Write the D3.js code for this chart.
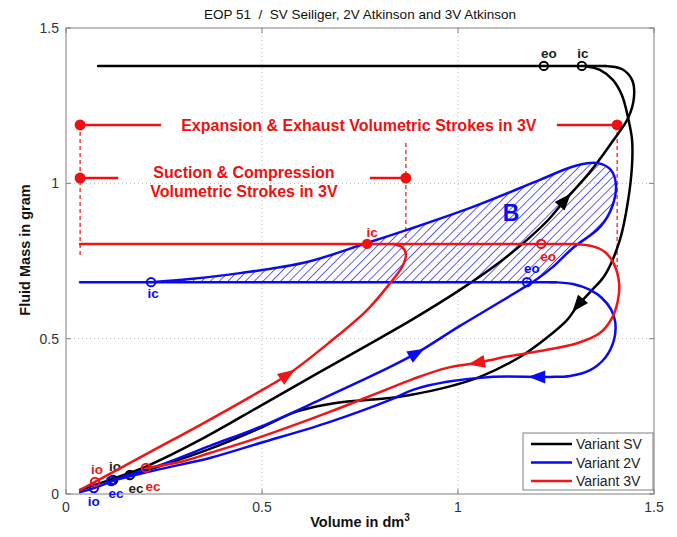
<!DOCTYPE html>
<html>
<head>
<meta charset="utf-8">
<title>EOP 51</title>
<script src="https://cdn.jsdelivr.net/npm/d3@7"></script>
<style>
  html, body { margin: 0; padding: 0; background: #fff; }
  svg { display: block; font-family: "Liberation Sans", Arial, Helvetica, sans-serif; }
  .pre { white-space: pre; }
</style>
</head>
<body>
<svg id="chart" width="677" height="537"></svg>
<script>
// ---------- Data: cylinder volume (dm³) vs fluid mass (g) ----------
const volumeTicks = [0, 0.5, 1, 1.5];
const massTicks = [0, 0.5, 1, 1.5];
const volumeTickLabels = ["0", "0.5", "1", "1.5"];
const massTickLabels = ["0", "0.5", "1", "1.5"];
const variantNames = ["Variant SV", "Variant 2V", "Variant 3V"];

// SV Seiliger: intake branch, closed-valve plateau, exhaust branch
const svIntake = [[0.036,0.013],[0.117,0.048],[0.207,0.090],[0.342,0.174],[0.495,0.283],[0.648,0.393],[0.801,0.502],[0.885,0.563],[1.000,0.653],[1.107,0.747],[1.176,0.818],[1.230,0.882],[1.273,0.946],[1.337,1.037],[1.393,1.133],[1.434,1.210],[1.449,1.278],[1.444,1.333],[1.418,1.368],[1.375,1.378]];
const svPlateau = [[0.082,1.378],[1.375,1.378]];
const svExhaust = [[1.324,1.378],[1.362,1.365],[1.395,1.333],[1.418,1.284],[1.434,1.210],[1.444,1.140],[1.444,1.059],[1.434,0.946],[1.413,0.818],[1.375,0.705],[1.337,0.650],[1.306,0.608],[1.278,0.560],[1.209,0.486],[1.158,0.441],[1.056,0.377],[0.972,0.344],[0.878,0.319],[0.827,0.309],[0.707,0.296],[0.622,0.277],[0.579,0.261],[0.495,0.212],[0.367,0.145],[0.240,0.090],[0.163,0.061]];
const svMarkers = [["eo",1.219,1.378],["ic",1.316,1.378],["io",0.120,0.045],["ec",0.163,0.061]];
const svArrows = [["intake",1.273,0.946],["exhaust",1.306,0.608]];

// 2V Atkinson
const dvIntake = [[0.036,0.006],[0.071,0.019],[0.151,0.058],[0.240,0.093],[0.367,0.155],[0.495,0.216],[0.648,0.303],[0.827,0.409],[0.895,0.454],[1.005,0.541],[1.107,0.618],[1.202,0.692],[1.242,0.731],[1.293,0.792],[1.362,0.859],[1.393,0.924],[1.403,0.995],[1.390,1.043],[1.357,1.065],[1.298,1.056],[1.209,1.011],[1.038,0.924],[0.870,0.850],[0.768,0.808],[0.615,0.747],[0.444,0.711],[0.316,0.692],[0.217,0.682]];
const dvPlateau = [[0.036,0.682],[1.250,0.682]];
const dvExhaust = [[1.235,0.682],[1.293,0.676],[1.337,0.657],[1.367,0.631],[1.390,0.595],[1.401,0.554],[1.398,0.496],[1.375,0.438],[1.337,0.399],[1.286,0.380],[1.235,0.377],[1.202,0.377],[1.082,0.377],[0.972,0.361],[0.885,0.335],[0.827,0.303],[0.666,0.229],[0.495,0.164],[0.367,0.116],[0.240,0.080],[0.115,0.042]];
const dvMarkers = [["ic",0.217,0.682],["eo",1.176,0.682],["io",0.071,0.019],["ec",0.115,0.042]];
const dvArrows = [["intake",0.895,0.451],["exhaust",1.202,0.377]];

// 3V Atkinson
const tvIntake = [[0.036,0.013],[0.074,0.039],[0.214,0.135],[0.342,0.222],[0.469,0.312],[0.564,0.383],[0.673,0.489],[0.768,0.592],[0.827,0.679],[0.860,0.737],[0.867,0.776],[0.857,0.795],[0.834,0.805]];
const tvPlateau = [[0.036,0.805],[1.298,0.805]];
const tvExhaust = [[1.298,0.805],[1.342,0.798],[1.375,0.779],[1.398,0.740],[1.411,0.679],[1.408,0.624],[1.393,0.567],[1.362,0.518],[1.306,0.486],[1.209,0.460],[1.133,0.444],[1.048,0.422],[0.972,0.406],[0.885,0.370],[0.801,0.328],[0.666,0.261],[0.495,0.183],[0.367,0.132],[0.291,0.103],[0.204,0.084]];
const tvMarkers = [["ic",0.768,0.805],["eo",1.212,0.805],["io",0.074,0.039],["ec",0.204,0.084]];
const tvArrows = [["intake",0.564,0.383],["exhaust",1.048,0.422]];

// 3V stroke spans: [volume from, volume to, mass level, text centre volume]
const spanExpansion = [0.036, 1.406, 1.188, 0.747];
const spanSuction = [0.036, 0.867, 1.017, 0.454];
const spanExpansionText = ["Expansion & Exhaust Volumetric Strokes in 3V"];
const spanSuctionText = ["Suction & Compression", "Volumetric Strokes in 3V"];
// dashed guides: [volume, mass top, mass bottom]
const strokeGuides = [[0.036,1.188,0.763],[1.406,1.188,0.731],[0.867,1.130,0.818]];

// ---------- Layout & style ----------
const W = 677, H = 537;
const plot = { left: 66, right: 654, top: 28, bottom: 494 };
const colors = { SV: "#000000", "2V": "#0a0af2", "3V": "#f01414" };
const annotRed = "#f01010";

const svg = d3.select("#chart");
const x = d3.scaleLinear().domain([0, 1.5]).range([plot.left, plot.right]);
const y = d3.scaleLinear().domain([0, 1.5]).range([plot.bottom, plot.top]);

const defs = svg.append("defs");
defs.append("pattern")
  .attr("id", "hatchB")
  .attr("patternUnits", "userSpaceOnUse")
  .attr("width", 6.2).attr("height", 6.2)
  .attr("patternTransform", "rotate(45)")
  .append("line")
  .attr("x1", 0).attr("y1", 0).attr("x2", 0).attr("y2", 6.2)
  .attr("stroke", colors["2V"]).attr("stroke-width", 1.3);

svg.append("rect").attr("width", W).attr("height", H).attr("fill", "#fff");

// grid
const grid = svg.append("g");
volumeTicks.filter(v => v > 0 && v < 1.5).forEach(v => {
  grid.append("line").attr("x1", x(v)).attr("x2", x(v)).attr("y1", plot.top).attr("y2", plot.bottom)
    .attr("stroke", "#b8b8b8").attr("stroke-width", 1).attr("stroke-dasharray", "1,3");
});
massTicks.filter(m => m > 0 && m < 1.5).forEach(m => {
  grid.append("line").attr("y1", y(m)).attr("y2", y(m)).attr("x1", plot.left).attr("x2", plot.right)
    .attr("stroke", "#b8b8b8").attr("stroke-width", 1).attr("stroke-dasharray", "1,3");
});

// hatched area enclosed by the 2V intake loop above its plateau
(function () {
  const level = dvPlateau[0][1];
  const i = dvIntake.findIndex(p => p[1] >= level);
  const a = dvIntake[i - 1], b = dvIntake[i];
  const t = (level - a[1]) / (b[1] - a[1]);
  const cross = [a[0] + t * (b[0] - a[0]), level];
  const loop = [cross].concat(dvIntake.slice(i));
  const gen = d3.line().x(d => x(d[0])).y(d => y(d[1])).curve(d3.curveCatmullRom.alpha(0.5));
  svg.append("path").attr("d", gen(loop) + "Z").attr("fill", "url(#hatchB)").attr("stroke", "none");
})();

// dashed guides of the 3V strokes
strokeGuides.forEach(g => {
  svg.append("line").attr("x1", x(g[0])).attr("x2", x(g[0])).attr("y1", y(g[1])).attr("y2", y(g[2]))
    .attr("stroke", annotRed).attr("stroke-width", 1.2).attr("stroke-dasharray", "4,3");
});

// axes frame and ticks
const frame = svg.append("g");
frame.append("rect").attr("x", plot.left).attr("y", plot.top)
  .attr("width", plot.right - plot.left).attr("height", plot.bottom - plot.top)
  .attr("fill", "none").attr("stroke", "#808080").attr("stroke-width", 1);
const tickLen = 5;
volumeTicks.forEach(v => {
  frame.append("line").attr("x1", x(v)).attr("x2", x(v)).attr("y1", plot.bottom).attr("y2", plot.bottom - tickLen).attr("stroke", "#808080");
  frame.append("line").attr("x1", x(v)).attr("x2", x(v)).attr("y1", plot.top).attr("y2", plot.top + tickLen).attr("stroke", "#808080");
});
massTicks.forEach(m => {
  frame.append("line").attr("y1", y(m)).attr("y2", y(m)).attr("x1", plot.left).attr("x2", plot.left + tickLen).attr("stroke", "#808080");
  frame.append("line").attr("y1", y(m)).attr("y2", y(m)).attr("x1", plot.right).attr("x2", plot.right - tickLen).attr("stroke", "#808080");
});
volumeTicks.forEach((v, i) => {
  frame.append("text").attr("x", x(v)).attr("y", plot.bottom + 18).attr("text-anchor", "middle")
    .attr("font-size", 14).attr("fill", "#333").text(volumeTickLabels[i]);
});
massTicks.forEach((m, i) => {
  frame.append("text").attr("x", plot.left - 7).attr("y", y(m) + 5).attr("text-anchor", "end")
    .attr("font-size", 14).attr("fill", "#333").text(massTickLabels[i]);
});

// title and axis labels
svg.append("text").attr("class", "pre").attr("x", (plot.left + plot.right) / 2).attr("y", 19).attr("text-anchor", "middle")
  .attr("font-size", 13.5).attr("fill", "#111").text("EOP 51  /  SV Seiliger, 2V Atkinson and 3V Atkinson");
const xl = svg.append("text").attr("x", (plot.left + plot.right) / 2).attr("y", 527).attr("text-anchor", "middle")
  .attr("font-size", 14.5).attr("font-weight", "bold").attr("fill", "#111");
xl.append("tspan").text("Volume in dm");
xl.append("tspan").attr("font-size", 10).attr("dy", -6).text("3");
svg.append("text").attr("transform", "translate(30,250) rotate(-90)").attr("text-anchor", "middle")
  .attr("font-size", 14.5).attr("font-weight", "bold").attr("fill", "#111").text("Fluid Mass in gram");

// 3V stroke annotations
function strokeSpan(span, lines, textBaseline, pad) {
  const g = svg.append("g");
  const yy = y(span[2]);
  const tg = g.append("g");
  lines.forEach((s, k) => {
    tg.append("text").attr("x", x(span[3])).attr("y", yy + textBaseline + k * 19).attr("text-anchor", "middle")
      .attr("font-size", 16).attr("font-weight", "bold").attr("fill", annotRed).text(s);
  });
  const bb = tg.node().getBBox();
  g.append("line").attr("x1", x(span[0])).attr("x2", bb.x - pad).attr("y1", yy).attr("y2", yy)
    .attr("stroke", annotRed).attr("stroke-width", 2.5);
  g.append("line").attr("x1", bb.x + bb.width + pad).attr("x2", x(span[1])).attr("y1", yy).attr("y2", yy)
    .attr("stroke", annotRed).attr("stroke-width", 2.5);
  [span[0], span[1]].forEach(v => g.append("circle").attr("cx", x(v)).attr("cy", yy).attr("r", 5.5).attr("fill", annotRed));
}
strokeSpan(spanExpansion, spanExpansionText, 6.5, 20);
strokeSpan(spanSuction, spanSuctionText, -0.5, 32);

// "B" label of the hatched area
svg.append("text").attr("x", 511).attr("y", 221).attr("text-anchor", "middle")
  .attr("font-size", 23).attr("font-weight", "bold").attr("fill", colors["2V"]).text("B");

// ---------- traces ----------
const smooth = d3.line().x(d => x(d[0])).y(d => y(d[1])).curve(d3.curveCatmullRom.alpha(0.5));
const straight = d3.line().x(d => x(d[0])).y(d => y(d[1]));

function arrowOn(node, target, color) {
  const L = node.getTotalLength();
  const tx = x(target[1]), ty = y(target[2]);
  let best = 0, bd = Infinity;
  for (let l = 0; l <= L; l += 0.5) {
    const p = node.getPointAtLength(l);
    const d = (p.x - tx) ** 2 + (p.y - ty) ** 2;
    if (d < bd) { bd = d; best = l; }
  }
  const p0 = node.getPointAtLength(Math.max(0, best - 4));
  const p1 = node.getPointAtLength(Math.min(L, best + 4));
  const c = node.getPointAtLength(best);
  const ang = Math.atan2(p1.y - p0.y, p1.x - p0.x) * 180 / Math.PI;
  svg.append("path").attr("d", "M9,0 L-8,-6.5 L-8,6.5 Z")
    .attr("transform", `translate(${c.x},${c.y}) rotate(${ang})`).attr("fill", color);
}

const labelOffsets = {
  "SV-eo": [5, -8], "SV-ic": [1, -8], "SV-io": [2, -9], "SV-ec": [6, 18],
  "2V-ic": [2, 16], "2V-eo": [5, -9], "2V-io": [0, 18], "2V-ec": [5, 17],
  "3V-ic": [5, -7], "3V-eo": [7, 17], "3V-io": [2, -8], "3V-ec": [7, 23]
};
const filledMarkers = { "3V-ic": true };

function drawVariant(key, intake, plateau, exhaust, markers, arrows) {
  const col = colors[key];
  const g = svg.append("g").attr("fill", "none").attr("stroke", col).attr("stroke-width", 2.5)
    .attr("stroke-linejoin", "round").attr("stroke-linecap", "round");
  const pi = g.append("path").attr("d", smooth(intake));
  g.append("path").attr("d", straight(plateau));
  const pe = g.append("path").attr("d", smooth(exhaust));
  arrows.forEach(a => arrowOn(a[0] === "intake" ? pi.node() : pe.node(), a, col));
  markers.forEach(m => {
    const id = key + "-" + m[0];
    svg.append("circle").attr("cx", x(m[1])).attr("cy", y(m[2])).attr("r", 4.2)
      .attr("fill", filledMarkers[id] ? col : "none").attr("stroke", col).attr("stroke-width", 2);
    const off = labelOffsets[id];
    svg.append("text").attr("x", x(m[1]) + off[0]).attr("y", y(m[2]) + off[1]).attr("text-anchor", "middle")
      .attr("font-size", 13.5).attr("font-weight", "bold").attr("fill", key === "SV" ? "#222" : col).text(m[0]);
  });
}
drawVariant("SV", svIntake, svPlateau, svExhaust, svMarkers, svArrows);
drawVariant("2V", dvIntake, dvPlateau, dvExhaust, dvMarkers, dvArrows);
drawVariant("3V", tvIntake, tvPlateau, tvExhaust, tvMarkers, tvArrows);

// ---------- legend ----------
const leg = svg.append("g").attr("transform", "translate(523,433)");
leg.append("rect").attr("width", 130).attr("height", 57).attr("fill", "#fff").attr("stroke", "#808080");
["SV", "2V", "3V"].forEach((k, i) => {
  const yy = 11 + i * 18.5;
  leg.append("line").attr("x1", 8).attr("x2", 49).attr("y1", yy).attr("y2", yy)
    .attr("stroke", colors[k]).attr("stroke-width", 2.5);
  leg.append("text").attr("x", 53).attr("y", yy + 5).attr("font-size", 14).attr("fill", "#222").text(variantNames[i]);
});
</script>
</body>
</html>
